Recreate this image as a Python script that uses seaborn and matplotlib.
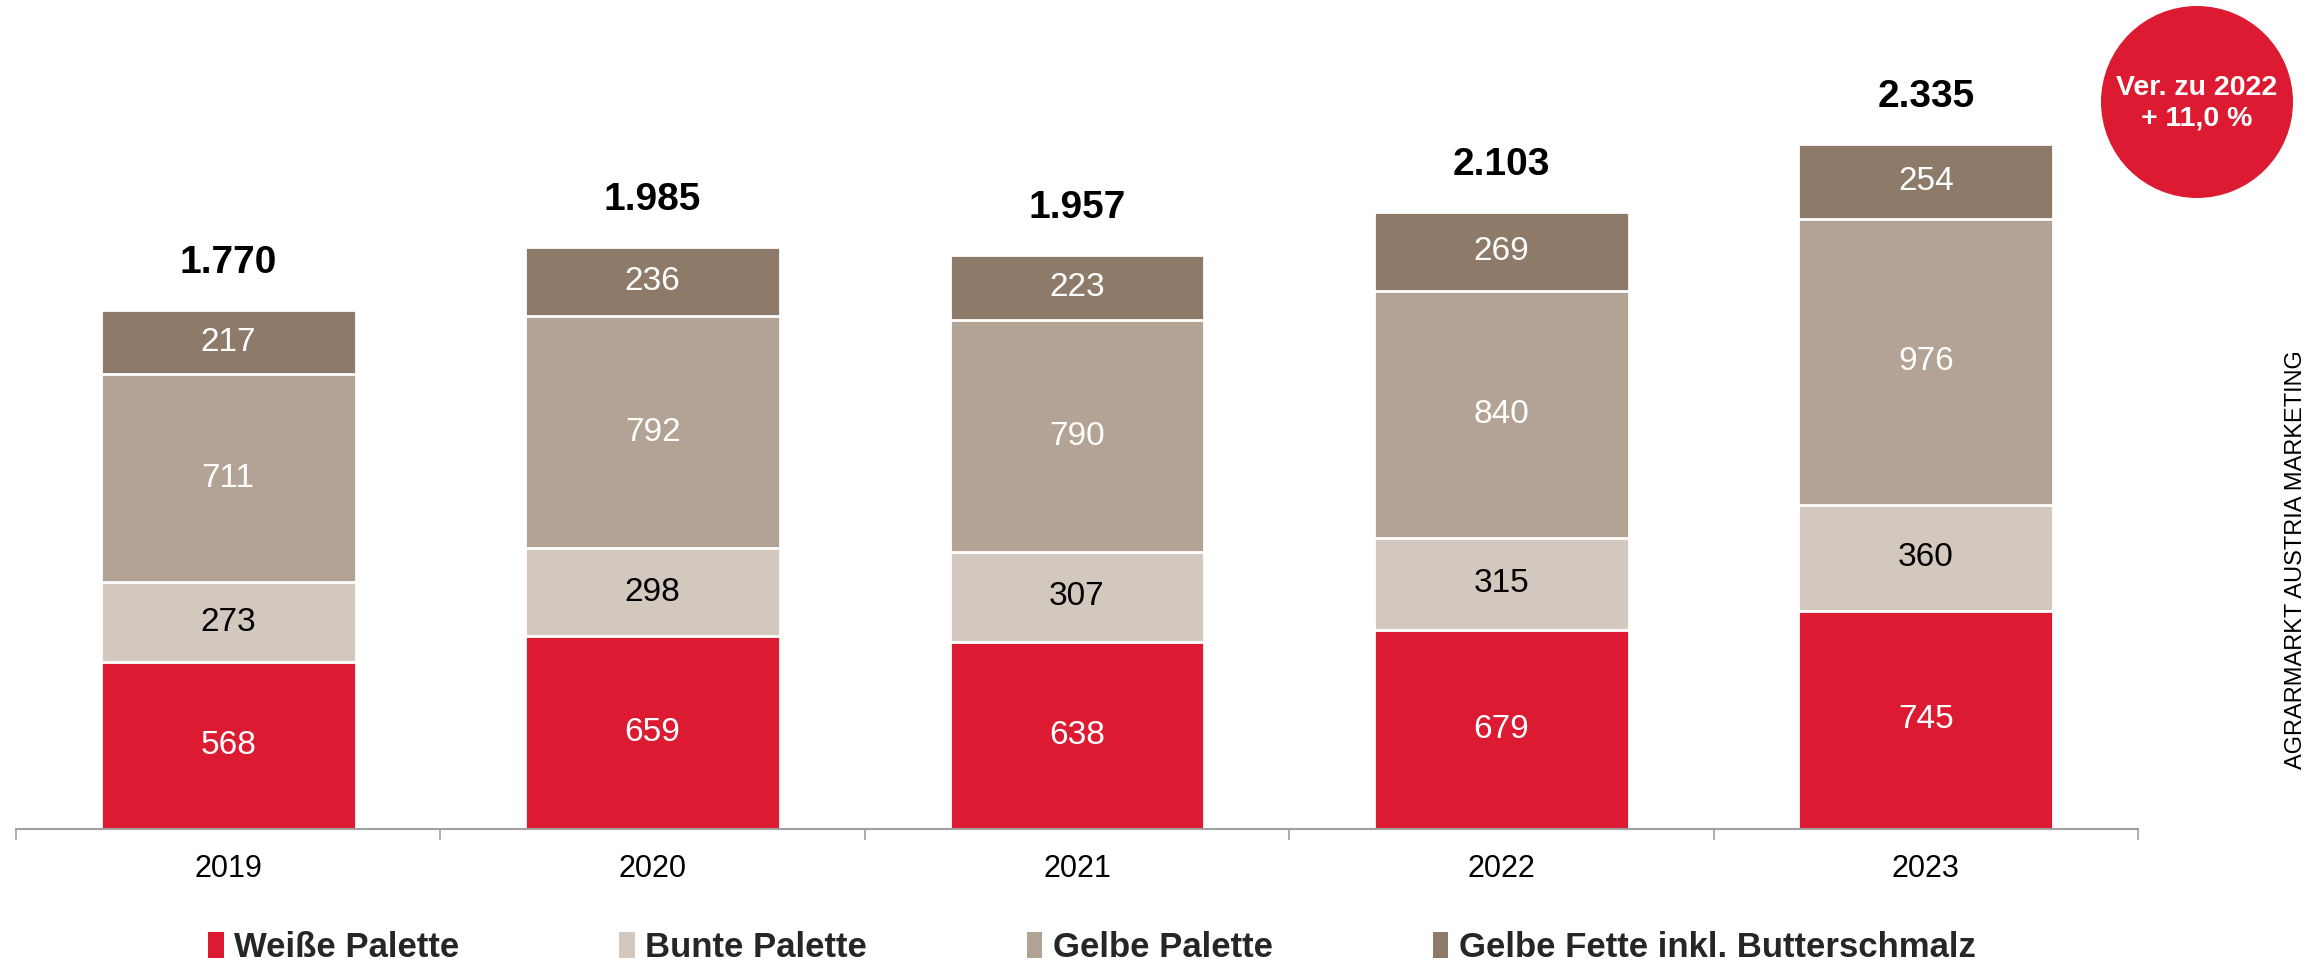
import matplotlib
matplotlib.use("Agg")
import matplotlib.pyplot as plt
from matplotlib.patches import Patch, Ellipse
import pandas as pd
import seaborn as sns

years = ["2019", "2020", "2021", "2022", "2023"]
weisse = [568, 659, 638, 679, 745]
bunte = [273, 298, 307, 315, 360]
gelbe = [711, 792, 790, 840, 976]
fette = [217, 236, 223, 269, 254]
totals = [1770, 1985, 1957, 2103, 2335]
series_names = ["Weiße Palette", "Bunte Palette", "Gelbe Palette", "Gelbe Fette inkl. Butterschmalz"]
badge_lines = ["Ver. zu 2022", "+ 11,0 %"]
source_text = "AGRARMARKT AUSTRIA MARKETING"

colors = ["#DC1A31", "#D2C8BE", "#B3A394", "#8E7A68"]
label_colors = ["white", "black", "white", "white"]


def build_frame():
    df = pd.DataFrame({"year": years, "weisse": weisse, "bunte": bunte, "gelbe": gelbe, "fette": fette})
    df["c1"] = df["weisse"]
    df["c2"] = df["c1"] + df["bunte"]
    df["c3"] = df["c2"] + df["gelbe"]
    df["c4"] = df["c3"] + df["fette"]
    return df


def main():
    sns.set_style("white")
    plt.rcParams["font.family"] = ["Liberation Sans", "DejaVu Sans"]

    W, H = 2318, 964
    fig = plt.figure(figsize=(W / 100, H / 100), dpi=100)
    ax = fig.add_axes([16 / W, 135 / H, (2138 - 16) / W, 829 / H])

    df = build_frame()
    # stacked bars: draw cumulative sums from the top layer down
    for col, color in zip(["c4", "c3", "c2", "c1"], colors[::-1]):
        sns.barplot(data=df, x="year", y=col, color=color, saturation=1, width=0.6,
                    edgecolor="white", linewidth=2, ax=ax)

    layers = [weisse, bunte, gelbe, fette]
    bottoms = [0] * len(years)
    for vals, tc in zip(layers, label_colors):
        for i, v in enumerate(vals):
            ax.text(i, bottoms[i] + v / 2, str(v), ha="center", va="center", fontsize=24, color=tc)
            bottoms[i] += v
    for i, t in enumerate(totals):
        ax.text(i, df["c4"][i] + 160, f"{t:,}".replace(",", "."), ha="center", va="center",
                fontsize=28, fontweight="bold", color="black")

    ax.set_xlim(-0.5, len(years) - 0.5)
    ax.set_ylim(0, 2827)
    ax.set_xlabel("")
    ax.set_ylabel("")
    ax.set_yticks([])
    for s in ["top", "right", "left"]:
        ax.spines[s].set_visible(False)
    ax.spines["bottom"].set_color("#A0A0A0")
    ax.spines["bottom"].set_linewidth(1.5)
    ax.set_xticks([i - 0.5 for i in range(len(years) + 1)], minor=True)
    ax.tick_params(axis="x", which="minor", length=8, width=1.2, color="#A0A0A0", direction="out", bottom=True)
    ax.tick_params(axis="x", which="major", length=0, pad=18, labelsize=22, labelcolor="black")

    handles = [Patch(facecolor=c, edgecolor="none") for c in colors]
    fig.legend(handles, series_names, loc="center", bbox_to_anchor=(0.471, 0.017), ncol=4,
               frameon=False, prop={"weight": "bold", "size": 25}, handlelength=0.45,
               handleheight=0.75, handletextpad=0.3, columnspacing=4.6)

    cx, cy, r = 2197, 102, 96
    fig.patches.append(Ellipse((cx / W, 1 - cy / H), 2 * r / W, 2 * r / H,
                               transform=fig.transFigure, facecolor="#DC1A31", edgecolor="none"))
    fig.text(cx / W, 1 - 88 / H, badge_lines[0], ha="center", va="center", color="white",
             fontsize=20.5, fontweight="bold")
    fig.text(cx / W, 1 - 118 / H, badge_lines[1], ha="center", va="center", color="white",
             fontsize=20.5, fontweight="bold")

    fig.text(2296 / W, 1 - 560 / H, source_text, rotation=90, ha="center", va="center",
             fontsize=17, color="black")

    fig.savefig("out.png", dpi=100)


if __name__ == "__main__":
    main()
